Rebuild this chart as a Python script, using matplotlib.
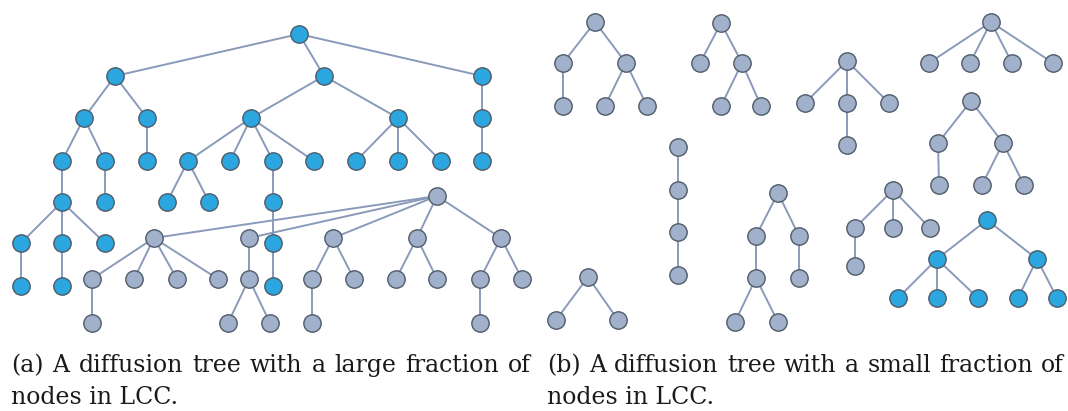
import matplotlib
matplotlib.use("Agg")
import matplotlib.pyplot as plt

# ---------------- data: node positions (pixels), LCC membership, edges ----------------
# Panel (a): one large diffusion tree
a_x = [299,
       115, 324, 482,
       84, 147, 251, 398, 482,
       62, 105, 147, 188, 230, 273, 314, 356, 398, 441, 482,
       62, 105, 167, 209, 273,
       21, 62, 105, 273,
       21, 62, 273,
       437,
       154, 249, 333, 417, 501,
       92, 134, 177, 218, 249, 312, 354, 396, 437, 480, 522,
       92, 228, 270, 312, 480]
a_y = [34,
       76, 76, 76,
       118, 118, 118, 118, 118,
       161, 161, 161, 161, 161, 161, 161, 161, 161, 161, 161,
       202, 202, 202, 202, 202,
       243, 243, 243, 243,
       286, 286, 286,
       196,
       238, 238, 238, 238, 238,
       279, 279, 279, 279, 279, 279, 279, 279, 279, 279, 279,
       323, 323, 323, 323, 323]
a_lcc = [1] * 32 + [0] * 22
a_edges = [(0, 1), (0, 2), (0, 3),
           (1, 4), (1, 5), (2, 6), (2, 7), (3, 8),
           (4, 9), (4, 10), (5, 11), (6, 12), (6, 13), (6, 14), (6, 15),
           (7, 16), (7, 17), (7, 18), (8, 19),
           (9, 20), (10, 21), (12, 22), (12, 23), (14, 24),
           (20, 25), (20, 26), (20, 27), (24, 28),
           (25, 29), (26, 30), (28, 31),
           (32, 33), (32, 34), (32, 35), (32, 36), (32, 37),
           (33, 38), (33, 39), (33, 40), (33, 41), (34, 42),
           (35, 43), (35, 44), (36, 45), (36, 46), (37, 47), (37, 48),
           (38, 49), (42, 50), (42, 51), (43, 52), (47, 53)]

# Panel (b): many small diffusion trees
b_x = [595, 563, 626, 563, 605, 647,
       721, 700, 742, 721, 761,
       847, 805, 847, 889, 847,
       991, 929, 970, 1012, 1053,
       971, 938, 1003, 939, 982, 1024,
       678, 678, 678, 678,
       588, 556, 618,
       778, 756, 799, 756, 799, 735, 778,
       893, 855, 893, 930, 855,
       987, 937, 1037, 898, 937, 978, 1018, 1057]
b_y = [22, 63, 63, 106, 106, 106,
       23, 63, 63, 106, 106,
       61, 103, 103, 103, 145,
       22, 63, 63, 63, 63,
       101, 143, 143, 185, 185, 185,
       147, 190, 232, 275,
       277, 320, 320,
       193, 236, 236, 278, 278, 322, 322,
       190, 228, 228, 228, 266,
       220, 259, 259, 298, 298, 298, 298, 298]
b_lcc = [0] * 46 + [1] * 8
b_edges = [(0, 1), (0, 2), (1, 3), (2, 4), (2, 5),
           (6, 7), (6, 8), (8, 9), (8, 10),
           (11, 12), (11, 13), (11, 14), (13, 15),
           (16, 17), (16, 18), (16, 19), (16, 20),
           (21, 22), (21, 23), (22, 24), (23, 25), (23, 26),
           (27, 28), (28, 29), (29, 30),
           (31, 32), (31, 33),
           (34, 35), (34, 36), (35, 37), (36, 38), (37, 39), (37, 40),
           (41, 42), (41, 43), (41, 44), (42, 45),
           (46, 47), (46, 48), (47, 49), (47, 50), (47, 51), (48, 52), (48, 53)]

caption_a = ["(a) A diffusion tree with a large fraction of", "nodes in LCC."]
caption_b = ["(b) A diffusion tree with a small fraction of", "nodes in LCC."]

# ---------------- styling ----------------
LCC_COLOR = "#2ca6df"
OTHER_COLOR = "#a2b1cb"
NODE_EDGE = "#4f5b68"
LINK_COLOR = "#8a9aba"

fig = plt.figure(figsize=(10.68, 4.11), dpi=100)
ax = fig.add_axes([0, 0, 1, 1])
ax.set_xlim(0, 1068)
ax.set_ylim(411, 0)
ax.axis("off")


def draw_forest(xs, ys, lcc, edges):
    for p, c in edges:
        ax.plot([xs[p], xs[c]], [ys[p], ys[c]], color=LINK_COLOR, lw=1.4,
                solid_capstyle="round", zorder=1)
    for x, y, l in zip(xs, ys, lcc):
        ax.plot(x, y, "o", ms=12.5, mfc=LCC_COLOR if l else OTHER_COLOR,
                mec=NODE_EDGE, mew=1.0, zorder=2)


draw_forest(a_x, a_y, a_lcc, a_edges)
draw_forest(b_x, b_y, b_lcc, b_edges)

FONT = dict(family="DejaVu Serif", fontsize=17, color="#1a1a1a")
renderer = fig.canvas.get_renderer()
inv = ax.transData.inverted()


def width_of(t):
    bb = t.get_window_extent(renderer=renderer)
    (dx0, _), (dx1, _) = inv.transform([(bb.x0, bb.y0), (bb.x1, bb.y1)])
    return dx1 - dx0


def justified(line, x0, x1, y):
    words = line.split(" ")
    arts = [ax.text(0, y, w, va="baseline", ha="left", **FONT) for w in words]
    widths = [width_of(t) for t in arts]
    gap = (x1 - x0 - sum(widths)) / (len(words) - 1)
    x = x0
    for t, w in zip(arts, widths):
        t.set_x(x)
        x += w + gap


justified(caption_a[0], 11, 531, 372)
ax.text(11, 404, caption_a[1], va="baseline", ha="left", **FONT)
justified(caption_b[0], 547, 1064, 372)
ax.text(547, 404, caption_b[1], va="baseline", ha="left", **FONT)

fig.savefig("out.png", dpi=100)
